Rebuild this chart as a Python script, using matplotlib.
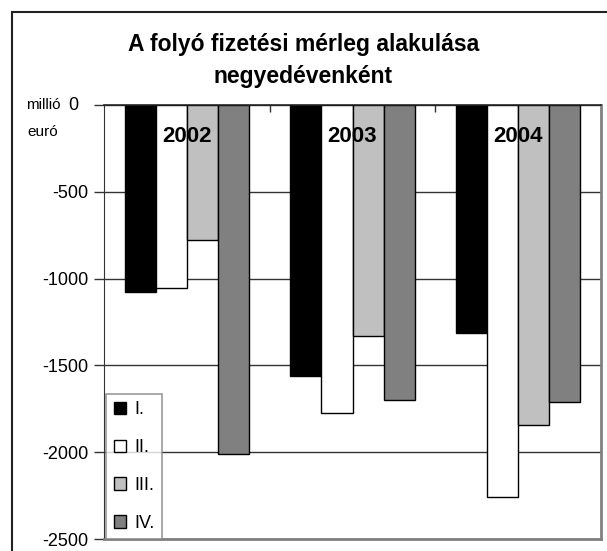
"""Folyó fizetési mérleg negyedévenként - oszlopdiagram"""

import matplotlib

matplotlib.use("Agg")

import matplotlib.pyplot as plt
import numpy as np
from matplotlib.patches import Rectangle

years = ["2002", "2003", "2004"]
quarters = ["I.", "II.", "III.", "IV."]
# millió euró, negyedévenként (I..IV) évenként
q1 = [-1077, -1559, -1315]
q2 = [-1054, -1775, -2256]
q3 = [-777, -1332, -1843]
q4 = [-2010, -1700, -1712]
colors = ["#000000", "#ffffff", "#c0c0c0", "#808080"]
yticks = [0, -500, -1000, -1500, -2000, -2500]

plt.rcParams["font.family"] = ["Liberation Sans", "DejaVu Sans"]

fig = plt.figure(figsize=(6.07, 5.51), dpi=100)
ax = fig.add_axes([104 / 607, 1 - 539 / 551, 497 / 607, (539 - 105) / 551])

x = np.arange(len(years))
width = 0.1875
series = [q1, q2, q3, q4]
for i, (vals, col, lab) in enumerate(zip(series, colors, quarters)):
    ax.bar(x + (i - 1.5) * width, vals, width, color=col, edgecolor="black",
           linewidth=1.0, label=lab, zorder=2)

ax.set_xlim(-0.5, 2.5)
ax.set_ylim(-2500, 0)
ax.set_yticks(yticks)
# a "0" felirat külön kerül ki, a "millió" mellé
ax.set_yticklabels(["" if t == 0 else str(t) for t in yticks], fontsize=13)
ax.tick_params(axis="y", direction="out", length=7, width=1, color="#333333", pad=4)

# kategória tengely a 0-nál (felül)
ax.xaxis.tick_top()
ax.set_xticks([0.5, 1.5])
ax.set_xticklabels([])
ax.tick_params(axis="x", direction="in", length=5, width=1, color="#333333")

ax.grid(axis="y", color="#333333", linewidth=1, zorder=0)
ax.set_axisbelow(True)
ax.spines["left"].set_color("#333333")
ax.spines["top"].set_color("#222222")
ax.spines["top"].set_linewidth(1.2)
for s in ["right", "bottom"]:
    ax.spines[s].set_color("#808080")
    ax.spines[s].set_linewidth(2)

for xi, yr in zip(x, years):
    ax.annotate(yr, xy=(xi, 0), xytext=(0, -31), textcoords="offset pixels",
                ha="center", va="center", fontsize=16, fontweight="bold", zorder=5)

leg = ax.legend(loc="lower left", bbox_to_anchor=(0.005, 0.0), fontsize=13,
                frameon=True, fancybox=False, handlelength=0.7, handleheight=0.7,
                handletextpad=0.45, labelspacing=1.15, borderpad=0.4,
                borderaxespad=0.0)
leg.get_frame().set_edgecolor("#808080")
leg.get_frame().set_linewidth(1.2)

fig.text(0.5, 1 - 44 / 551, "A folyó fizetési mérleg alakulása", ha="center",
         va="center", fontsize=16.5, fontweight="bold")
fig.text(0.5, 1 - 76 / 551, "negyedévenként", ha="center", va="center",
         fontsize=16.5, fontweight="bold")
fig.text(43 / 607, 1 - 105 / 551, "millió", ha="center", va="center", fontsize=11)
fig.text(43 / 607, 1 - 132 / 551, "euró", ha="center", va="center", fontsize=11)
fig.text(73 / 607, 1 - 105 / 551, "0", ha="center", va="center", fontsize=13)

# külső keret
fig.patches.append(Rectangle((12 / 607, -0.1), 1.2, 1 - 12 / 551 + 0.1,
                             transform=fig.transFigure, fill=False,
                             edgecolor="#222222", linewidth=1.5))

fig.savefig("out.png", dpi=100)
plt.close(fig)
